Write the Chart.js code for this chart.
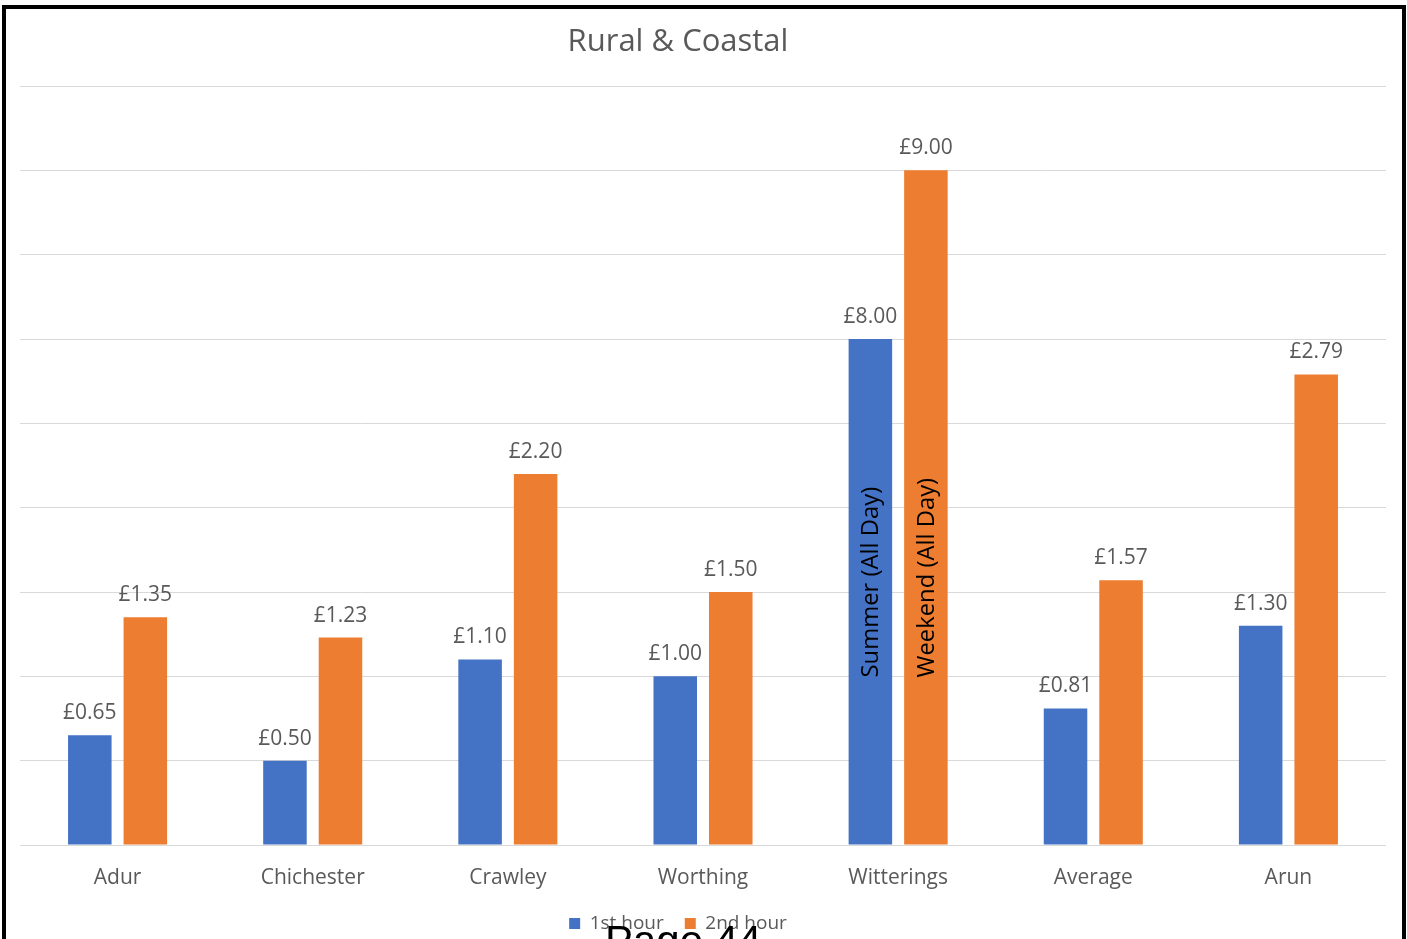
<!DOCTYPE html>
<html>
<head>
<meta charset="utf-8">
<title>Rural &amp; Coastal</title>
<script src="https://cdn.jsdelivr.net/npm/chart.js@4.4.1/dist/chart.umd.min.js"></script>
<style>
  html, body { margin: 0; padding: 0; width: 1407px; height: 939px; overflow: hidden; background: #fff; }
  #chart { position: absolute; left: -30px; top: 0; }
  #frame { position: absolute; left: 2px; top: 5px; width: 1396px; height: 1000px; border: 4px solid #000; pointer-events: none; }
  #page { position: absolute; left: 605px; top: 920px; font: 42px/42px "Liberation Sans", Arial, sans-serif; color: #000; white-space: nowrap; }
</style>
</head>
<body>
<canvas id="chart" width="1437" height="939"></canvas>
<div id="frame"></div>
<div id="page">Page 44</div>
<script>
// Car park charges by area (GBP)
const categories = ['Adur', 'Chichester', 'Crawley', 'Worthing', 'Witterings', 'Average', 'Arun'];
const seriesNames = ['1st hour', '2nd hour'];
const firstHour = [0.65, 0.50, 1.10, 1.00, 8.00, 0.81, 1.30];
const secondHour = [1.35, 1.23, 2.20, 1.50, 9.00, 1.57, 2.79];
const firstHourNotes = ['', '', '', '', 'Summer (All Day)', '', ''];
const secondHourNotes = ['', '', '', '', 'Weekend (All Day)', '', ''];

// The value axis is broken: everything between these two values is collapsed,
// so the all-day charges fit alongside the hourly ones.
const axisBreak = { from: 3, to: 8 };

const squeeze = v => v <= axisBreak.from ? v : (v >= axisBreak.to ? v - (axisBreak.to - axisBreak.from) : axisBreak.from);
const stretch = v => v <= axisBreak.from ? v : v + (axisBreak.to - axisBreak.from);

const BaseLinear = Chart.LinearScale || Chart.registry.getScale('linear');

class BrokenLinearScale extends BaseLinear {
  getPixelForValue(value) {
    return super.getPixelForValue(value == null ? value : squeeze(value));
  }
  getValueForPixel(pixel) {
    return stretch(super.getValueForPixel(pixel));
  }
  // grid lines stay evenly spaced across the collapsed range
  getPixelForTick(index) {
    const t = this.ticks[index];
    return t ? super.getPixelForValue(t.value) : null;
  }
}
BrokenLinearScale.id = 'brokenLinear';
BrokenLinearScale.defaults = {};
Chart.register(BrokenLinearScale);

const FONT = '"Open Sans", "Noto Sans", sans-serif';
Chart.defaults.font.family = FONT;

// Value labels above each bar and rotated notes inside the bars
const barText = {
  id: 'barText',
  afterDatasetsDraw(chart) {
    const ctx = chart.ctx;
    ctx.save();
    chart.data.datasets.forEach((ds, i) => {
      const meta = chart.getDatasetMeta(i);
      meta.data.forEach((bar, j) => {
        ctx.font = '21px ' + FONT;
        ctx.fillStyle = '#595959';
        ctx.textAlign = 'center';
        ctx.textBaseline = 'alphabetic';
        ctx.fillText('£' + ds.data[j].toFixed(2), bar.x, bar.y - 16);

        const note = ds.notes && ds.notes[j];
        if (note) {
          ctx.save();
          ctx.translate(bar.x + 1, bar.base - 167);
          ctx.rotate(-Math.PI / 2);
          ctx.font = '23.8px ' + FONT;
          ctx.fillStyle = '#000';
          ctx.textAlign = 'left';
          ctx.textBaseline = 'middle';
          ctx.fillText(note, 0, 0);
          ctx.restore();
        }
      });
    });
    ctx.restore();
  }
};

new Chart(document.getElementById('chart'), {
  type: 'bar',
  data: {
    labels: categories,
    datasets: [
      { label: seriesNames[0], data: firstHour, notes: firstHourNotes, backgroundColor: '#4472C4' },
      { label: seriesNames[1], data: secondHour, notes: secondHourNotes, backgroundColor: '#ED7D31' }
    ]
  },
  options: {
    responsive: false,
    animation: false,
    devicePixelRatio: 1,
    layout: { padding: { left: 0, right: 21, top: 0, bottom: -4 } },
    datasets: { bar: { categoryPercentage: 0.569, barPercentage: 0.784 } },
    scales: {
      x: {
        type: 'category',
        grid: { display: false, drawTicks: false },
        border: { display: false },
        ticks: { color: '#595959', font: { size: 21, family: FONT }, padding: 20 },
        afterFit: s => { s.height = 48; }
      },
      y: {
        type: 'brokenLinear',
        min: 0,
        max: 4.5,
        grid: { color: '#D9D9D9', lineWidth: 1, drawTicks: false },
        border: { display: false },
        ticks: { display: false, stepSize: 0.5 },
        afterFit: s => { s.width = 50; }
      }
    },
    plugins: {
      title: {
        display: true,
        text: 'Rural & Coastal',
        color: '#595959',
        font: { size: 31, weight: 'normal', family: FONT, lineHeight: 1.2 },
        padding: { top: 24, bottom: 24.8 }
      },
      legend: {
        position: 'bottom',
        labels: {
          color: '#595959',
          font: { size: 19, family: FONT },
          boxWidth: 11,
          boxHeight: 11,
          padding: 21
        }
      },
      tooltip: { enabled: false }
    }
  },
  plugins: [barText]
});
</script>
</body>
</html>
